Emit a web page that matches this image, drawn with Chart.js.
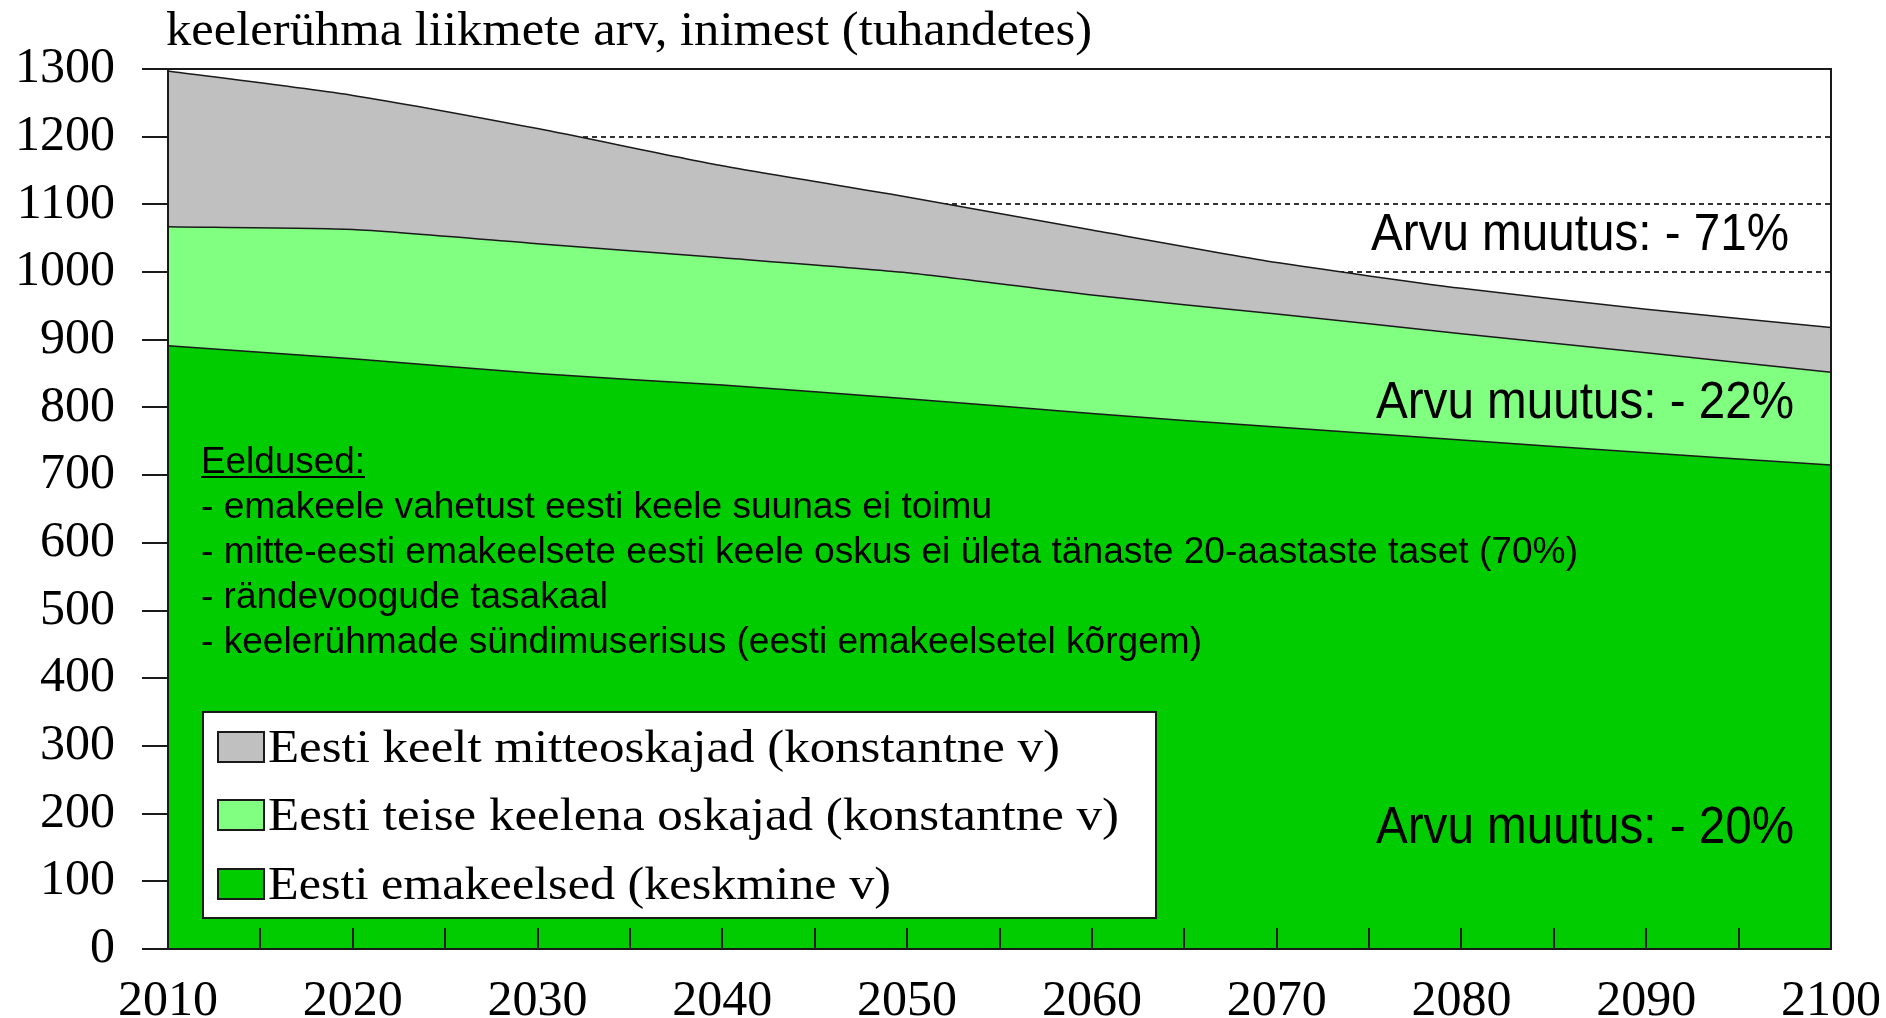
<!DOCTYPE html>
<html lang="et">
<head>
<meta charset="utf-8">
<title>Keelerühmade liikmete arv</title>
<script src="https://cdn.jsdelivr.net/npm/chart.js@4.4.1/dist/chart.umd.min.js"></script>
<style>
  html, body { margin: 0; padding: 0; background: #fff; }
  #wrap { width: 1886px; height: 1018px; }
</style>
</head>
<body>
<div id="wrap"><canvas id="chart" width="1886" height="1018"></canvas></div>
<script>
// Years on the x axis
const years = [2010, 2020, 2030, 2040, 2050, 2060, 2070, 2080, 2090, 2100];

// Group sizes, thousands of people (stacked from the bottom up)
const nativeSpeakers = [891, 872, 850, 833, 813, 791, 771, 752, 733, 715];
const secondLanguage = [176, 191, 192, 188, 186, 175, 167, 157, 148, 137];
const nonSpeakers = [230, 198, 170, 136, 112, 96, 76, 67, 64, 66];

const seriesLabels = [
    'Eesti keelt mitteoskajad (konstantne v)',
    'Eesti teise keelena oskajad (konstantne v)',
    'Eesti emakeelsed (keskmine v)'
];
const changeLabels = ['Arvu muutus: - 71%', 'Arvu muutus: - 22%', 'Arvu muutus: - 20%'];
const assumptions = [
    '- emakeele vahetust eesti keele suunas ei toimu',
    '- mitte-eesti emakeelsete eesti keele oskus ei ületa tänaste 20-aastaste taset (70%)',
    '- rändevoogude tasakaal',
    '- keelerühmade sündimuserisus (eesti emakeelsetel kõrgem)'
];
const titleText = 'keelerühma liikmete arv, inimest (tuhandetes)';

const SERIF = '"Liberation Serif", "DejaVu Serif", serif';
const SANS = '"Liberation Sans", Arial, sans-serif';

function toPoints(values) {
    return years.map((year, i) => ({ x: year, y: values[i] }));
}

// Draw text squeezed/stretched to a given width (the original uses narrow fonts)
function fitText(ctx, text, x, y, width, font) {
    ctx.save();
    ctx.font = font;
    ctx.textAlign = 'left';
    ctx.textBaseline = 'alphabetic';
    const natural = ctx.measureText(text).width;
    ctx.translate(x, y);
    ctx.scale(width / natural, 1);
    ctx.fillText(text, 0, 0);
    ctx.restore();
}

const overlayPlugin = {
    id: 'overlay',
    afterDatasetsDraw(chart) {
        const { ctx, chartArea: a, scales: { x } } = chart;
        ctx.save();
        ctx.strokeStyle = '#1a1a1a';
        ctx.lineWidth = 2;
        // tick marks pointing into the plot on the year axis
        ctx.beginPath();
        x.ticks.forEach(t => {
            if (t.value <= x.min || t.value >= x.max) return;
            const px = Math.round(x.getPixelForValue(t.value));
            ctx.moveTo(px, a.bottom);
            ctx.lineTo(px, a.bottom - 21);
        });
        ctx.stroke();
        ctx.strokeRect(a.left, a.top, a.right - a.left, a.bottom - a.top);
        ctx.restore();
    },
    afterDraw(chart) {
        const { ctx, chartArea: a } = chart;
        ctx.save();
        ctx.fillStyle = '#000';

        // axis title above the plot
        fitText(ctx, titleText, a.left - 2, 45, 926, '49px ' + SERIF);

        // change labels on the right
        fitText(ctx, changeLabels[0], 1371, 250, 418, '51px ' + SANS);
        fitText(ctx, changeLabels[1], 1376, 418, 418, '51px ' + SANS);
        fitText(ctx, changeLabels[2], 1376, 843, 418, '51px ' + SANS);

        // assumptions block
        fitText(ctx, 'Eeldused:', 201, 473, 164, '37px ' + SANS);
        ctx.fillRect(201, 476, 164, 2);
        const widths = [791, 1377, 407, 1001];
        assumptions.forEach((line, i) => {
            fitText(ctx, line, 201, 518 + i * 45, widths[i], '37px ' + SANS);
        });

        // legend box
        const box = { x: 203, y: 712, w: 953, h: 206 };
        ctx.fillStyle = '#fff';
        ctx.fillRect(box.x, box.y, box.w, box.h);
        ctx.strokeStyle = '#1a1a1a';
        ctx.lineWidth = 2;
        ctx.strokeRect(box.x, box.y, box.w, box.h);

        const legendWidths = [792, 851, 623];
        const legendBase = [762, 830, 899];
        seriesLabels.forEach((label, i) => {
            const ds = chart.data.datasets[2 - i];
            ctx.fillStyle = ds.backgroundColor;
            ctx.fillRect(218, legendBase[i] - 30, 46, 30);
            ctx.strokeStyle = '#1a1a1a';
            ctx.lineWidth = 2;
            ctx.strokeRect(218, legendBase[i] - 30, 46, 30);
            ctx.fillStyle = '#000';
            fitText(ctx, label, 268, legendBase[i], legendWidths[i], '46px ' + SERIF);
        });
        ctx.restore();
    }
};

const ctx = document.getElementById('chart').getContext('2d');

new Chart(ctx, {
    type: 'line',
    data: {
        datasets: [
            {
                label: seriesLabels[2],
                data: toPoints(nativeSpeakers),
                backgroundColor: '#00cc00',
                borderColor: '#1a1a1a',
                borderWidth: 1.5,
                fill: 'origin',
                pointRadius: 0,
                tension: 0.2
            },
            {
                label: seriesLabels[1],
                data: toPoints(secondLanguage),
                backgroundColor: '#80ff80',
                borderColor: '#1a1a1a',
                borderWidth: 1.5,
                fill: '-1',
                pointRadius: 0,
                tension: 0.2
            },
            {
                label: seriesLabels[0],
                data: toPoints(nonSpeakers),
                backgroundColor: '#c0c0c0',
                borderColor: '#1a1a1a',
                borderWidth: 1.5,
                fill: '-1',
                pointRadius: 0,
                tension: 0.2
            }
        ]
    },
    options: {
        responsive: false,
        animation: false,
        devicePixelRatio: 1,
        layout: {
            padding: { top: 69, right: 55, bottom: 0, left: 0 }
        },
        scales: {
            x: {
                type: 'linear',
                min: 2010,
                max: 2100,
                afterFit: scale => {
                    scale.height = 69;
                    scale.paddingLeft = 0;
                    scale.paddingRight = 0;
                },
                ticks: {
                    stepSize: 5,
                    autoSkip: false,
                    maxRotation: 0,
                    padding: 23,
                    color: '#000',
                    font: { family: SERIF, size: 50 },
                    callback: value => (value % 10 === 0 ? String(value) : '')
                },
                grid: { drawOnChartArea: false, drawTicks: false },
                border: { color: '#1a1a1a', width: 2 }
            },
            y: {
                stacked: true,
                min: 0,
                max: 1300,
                afterFit: scale => { scale.width = 168; },
                ticks: {
                    stepSize: 100,
                    padding: 27,
                    color: '#000',
                    font: { family: SERIF, size: 50 },
                    callback: value => String(value)
                },
                grid: {
                    color: '#333',
                    lineWidth: 2,
                    tickLength: 26,
                    tickColor: '#1a1a1a',
                    tickWidth: 2,
                    tickBorderDash: []
                },
                border: { color: '#1a1a1a', width: 2, dash: [5, 4] }
            }
        },
        plugins: {
            legend: { display: false },
            tooltip: { enabled: false }
        }
    },
    plugins: [overlayPlugin]
});
</script>
</body>
</html>
